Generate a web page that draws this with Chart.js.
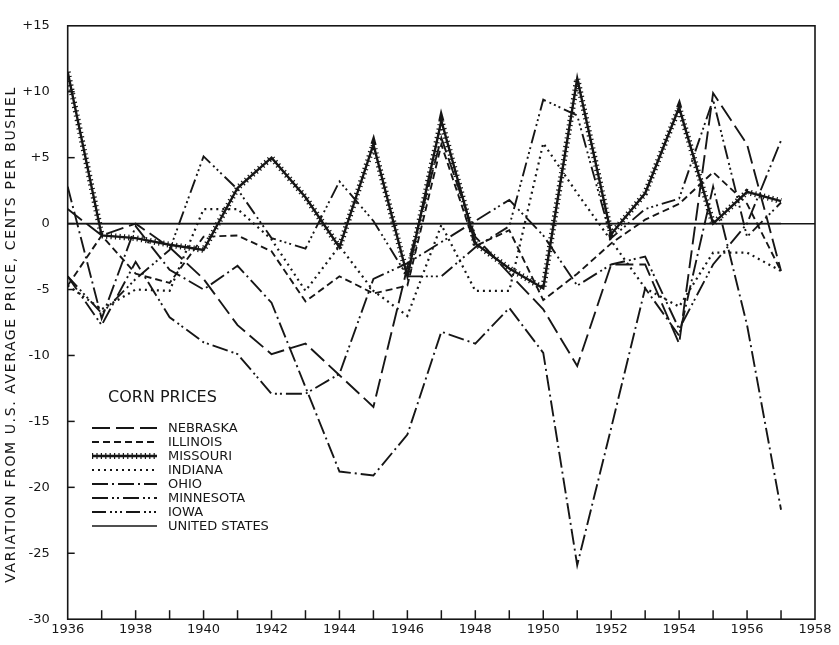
<!DOCTYPE html>
<html>
<head>
<meta charset="utf-8">
<script src="https://cdn.jsdelivr.net/npm/chart.js@4.4.1/dist/chart.umd.min.js"></script>
<style>
  html, body { margin: 0; padding: 0; background: #fff; }
  #wrap { width: 839px; height: 645px; }
</style>
</head>
<body>
<div id="wrap"><canvas id="c" width="839" height="645"></canvas></div>
<script>
// ---- data (cents per bushel, variation from U.S. average) ----
const years = [1936,1937,1938,1939,1940,1941,1942,1943,1944,1945,1946,1947,1948,1949,1950,1951,1952,1953,1954,1955,1956,1957];
const nebraska  = [1.1, -0.9, 0.0, -1.8, -4.2, -7.7, -9.9, -9.1, -11.5, -13.9, -3.3, 6.5, -1.0, -3.8, -6.5, -10.8, -3.1, -3.1, -9.1, 9.9, 6.0, -3.6];
const illinois  = [-4.7, -0.9, -3.8, -4.5, -1.0, -0.9, -2.1, -5.9, -4.0, -5.3, -4.7, 6.0, -1.7, -0.5, -5.8, -3.8, -1.5, 0.3, 1.5, 3.9, 1.5, -3.6];
const missouri  = [11.5, -0.9, -1.1, -1.6, -2.0, 2.7, 5.0, 2.0, -1.8, 6.0, -4.0, 7.8, -1.5, -3.4, -4.9, 11.0, -0.8, 2.3, 8.8, 0.0, 2.4, 1.7];
const indiana   = [-4.7, -6.5, -5.0, -5.1, 1.1, 1.1, -1.2, -5.1, -1.7, -5.1, -7.0, -0.1, -5.1, -5.1, 6.1, 2.3, -1.3, -4.9, -6.3, -2.2, -2.2, -3.6];
const ohio      = [2.8, -7.2, -0.2, -3.5, -5.0, -3.2, -6.0, -12.4, -18.8, -19.1, -16.0, -8.2, -9.1, -6.4, -9.8, -25.9, -15.5, -4.9, -8.5, 2.8, -7.7, -21.7];
const minnesota = [-4.0, -7.7, -2.9, -7.1, -9.0, -9.9, -12.9, -12.9, -11.4, -4.2, -3.0, -1.4, 0.2, 1.8, -0.9, -4.7, -3.1, -2.5, -8.0, -3.1, 0.0, 6.3];
const iowa      = [-4.0, -6.8, -4.2, -2.0, 5.1, 2.6, -1.1, -1.9, 3.2, 0.2, -4.0, -4.0, -1.8, -0.2, 9.4, 8.2, -1.1, 1.1, 1.9, 9.4, -1.0, 1.6];
const unitedStates = [0,0,0,0,0,0,0,0,0,0,0,0,0,0,0,0,0,0,0,0,0,0];

const xTickLabels = [1936,1938,1940,1942,1944,1946,1948,1950,1952,1954,1956,1958];
const yTickValues = [15,10,5,0,-5,-10,-15,-20,-25,-30];
const legendTitle = 'CORN PRICES';
const yTitle = 'VARIATION FROM U.S. AVERAGE PRICE, CENTS PER BUSHEL';

// ---- styles ----
const INK = '#161616';
const styles = {
  'NEBRASKA':      { dash: [18, 6] },
  'ILLINOIS':      { dash: [7, 4] },
  'MISSOURI':      { dash: [] , width: 2.4 },
  'INDIANA':       { dash: [2, 4], width: 2.2 },
  'OHIO':          { dash: [16, 4, 2, 4] },
  'MINNESOTA':     { dash: [16, 4, 2, 3, 2, 4] },
  'IOWA':          { dash: [14, 4, 2, 3, 2, 3, 2, 4] },
  'UNITED STATES': { dash: [], width: 1.5 }
};
const series = [
  ['NEBRASKA', nebraska], ['ILLINOIS', illinois], ['MISSOURI', missouri], ['INDIANA', indiana],
  ['OHIO', ohio], ['MINNESOTA', minnesota], ['IOWA', iowa], ['UNITED STATES', unitedStates]
];
const pts = arr => arr.map((v, i) => ({ x: years[i], y: v }));

const datasets = series.map(([name, arr]) => ({
  label: name,
  data: pts(arr),
  borderColor: INK,
  borderWidth: styles[name].width || 1.9,
  borderDash: styles[name].dash,
  borderCapStyle: 'butt',
  pointRadius: 0,
  tension: 0,
  fill: false
}));
// cross-hatch ticks of the Missouri line
datasets.push({
  label: 'MISSOURI_HATCH',
  data: pts(missouri),
  borderColor: INK,
  borderWidth: 6,
  borderDash: [1.2, 3.2],
  borderCapStyle: 'butt',
  pointRadius: 0,
  tension: 0,
  fill: false
});

const FONT = '"DejaVu Sans", "Liberation Sans", sans-serif';

const framePlugin = {
  id: 'frame',
  afterDraw(chart) {
    const { ctx, chartArea: a, scales: { x, y } } = chart;
    ctx.save();
    ctx.strokeStyle = INK;
    ctx.lineWidth = 1.6;
    ctx.strokeRect(a.left, a.top, a.right - a.left, a.bottom - a.top);
    ctx.lineWidth = 1.5;
    for (let yr = years[0] + 1; yr < 1958; yr++) {
      const px = x.getPixelForValue(yr);
      ctx.beginPath(); ctx.moveTo(px, a.bottom); ctx.lineTo(px, a.bottom - 9); ctx.stroke();
    }
    yTickValues.forEach(v => {
      if (v === 15 || v === -30) return;
      const py = y.getPixelForValue(v);
      ctx.beginPath(); ctx.moveTo(a.left, py); ctx.lineTo(a.left + 7, py); ctx.stroke();
    });
    // y-axis title
    ctx.fillStyle = INK;
    ctx.font = '14px ' + FONT;
    ctx.textAlign = 'center';
    ctx.textBaseline = 'middle';
    ctx.translate(11, (a.top + a.bottom) / 2 + 12);
    ctx.rotate(-Math.PI / 2);
    if ('letterSpacing' in ctx) ctx.letterSpacing = '1.6px';
    ctx.fillText(yTitle, 0, 0);
    ctx.restore();
  }
};

const legendPlugin = {
  id: 'cornLegend',
  afterDraw(chart) {
    const { ctx } = chart;
    ctx.save();
    ctx.fillStyle = INK;
    ctx.textBaseline = 'middle';
    ctx.textAlign = 'left';
    ctx.font = '16px ' + FONT;
    ctx.fillText(legendTitle, 108, 398);
    ctx.font = '13px ' + FONT;
    series.forEach(([name], i) => {
      const yy = 428 + i * 14;
      ctx.strokeStyle = INK;
      ctx.lineCap = 'butt';
      ctx.lineWidth = styles[name].width || 1.9;
      ctx.setLineDash(styles[name].dash);
      ctx.beginPath(); ctx.moveTo(92, yy); ctx.lineTo(157, yy); ctx.stroke();
      if (name === 'MISSOURI') {
        ctx.lineWidth = 6; ctx.setLineDash([1.2, 3.2]);
        ctx.beginPath(); ctx.moveTo(92, yy); ctx.lineTo(157, yy); ctx.stroke();
      }
      ctx.setLineDash([]);
      ctx.fillText(name, 168, yy + 1);
    });
    ctx.restore();
  }
};

new Chart(document.getElementById('c'), {
  type: 'line',
  data: { datasets },
  options: {
    responsive: false,
    animation: false,
    devicePixelRatio: 1,
    layout: { padding: { top: 14, right: 24, left: 0, bottom: 0 } },
    plugins: { legend: { display: false }, tooltip: { enabled: false } },
    scales: {
      x: {
        type: 'linear', min: 1936, max: 1958,
        afterFit(s) { s.height = 21; },
        border: { display: false },
        grid: { display: false, drawTicks: false },
        afterBuildTicks(s) { s.ticks = xTickLabels.map(v => ({ value: v })); },
        ticks: {
          autoSkip: false, maxRotation: 0, padding: 3, color: INK,
          font: { family: FONT, size: 13 },
          callback: v => String(v)
        }
      },
      y: {
        type: 'linear', min: -30, max: 15,
        afterFit(s) { s.width = 67.7; },
        border: { display: false },
        afterBuildTicks(s) { s.ticks = yTickValues.map(v => ({ value: v })); },
        grid: {
          drawTicks: false,
          color: c => (c.tick && c.tick.value === 0) ? INK : 'rgba(0,0,0,0)',
          lineWidth: 1.5
        },
        ticks: {
          padding: 18, color: INK,
          font: { family: FONT, size: 13 },
          callback: v => v > 0 ? '+' + v : String(v)
        },
        title: { display: false }
      }
    }
  },
  plugins: [framePlugin, legendPlugin]
});
</script>
</body>
</html>
